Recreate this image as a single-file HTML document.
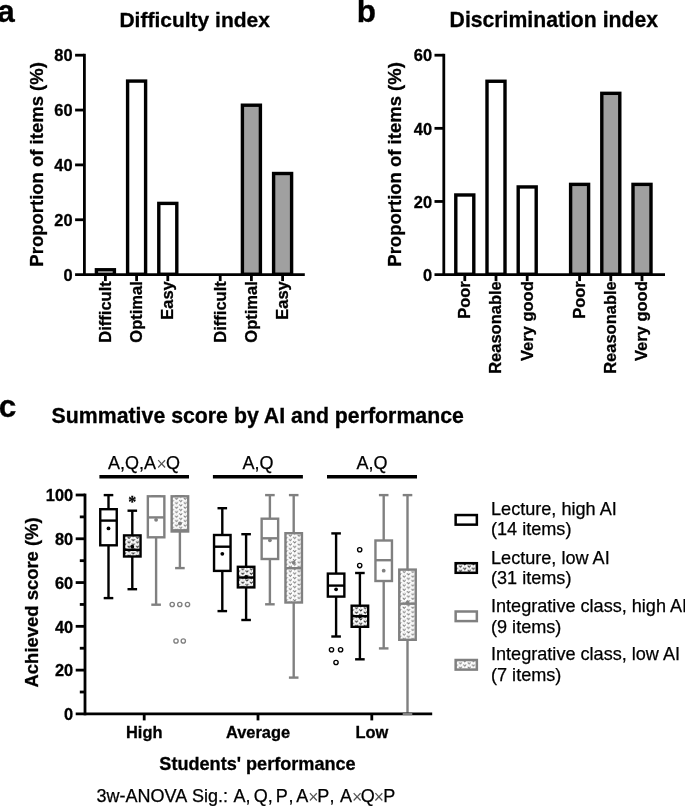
<!DOCTYPE html>
<html lang="en"><head><meta charset="utf-8"><title>Figure</title>
<style>
html,body{margin:0;padding:0;background:#fff;}
body{width:685px;height:806px;overflow:hidden;}
svg{display:block;}
svg text{white-space:pre;}
</style></head><body>
<svg width="685" height="806" viewBox="0 0 685 806" font-family='"Liberation Sans", Arial, Helvetica, sans-serif' fill="#000">
<defs>
<pattern id="pk" width="8.6" height="4.46" patternUnits="userSpaceOnUse" patternTransform="translate(0 0)">
<rect width="8.6" height="4.46" fill="#fff"/>
<rect x="-0.25" y="3.15" width="0.7" height="0.7" fill="#999"/>
<rect x="3.95" y="3.35" width="0.7" height="0.7" fill="#999"/>
<rect x="1.85" y="3.55" width="0.7" height="0.7" fill="#999"/>
<rect x="6.10" y="1.30" width="0.7" height="0.7" fill="#999"/>
<path d="M0.70 0.55 L2.15 2.25 L3.60 0.55 M5.00 2.78 L6.45 4.48 L7.90 2.78 M5.00 -1.68 L6.45 0.02 L7.90 -1.68 M-3.60 2.78 L-2.15 4.48 L-0.70 2.78 M-3.60 -1.68 L-2.15 0.02 L-0.70 -1.68 " fill="none" stroke="#1a1a1a" stroke-width="0.9"/>
</pattern>
<pattern id="pg" width="8.6" height="4.46" patternUnits="userSpaceOnUse" patternTransform="translate(0 0)">
<rect width="8.6" height="4.46" fill="#fff"/>
<rect x="-0.25" y="3.15" width="0.7" height="0.7" fill="#ccc"/>
<rect x="3.95" y="3.35" width="0.7" height="0.7" fill="#ccc"/>
<rect x="1.85" y="3.55" width="0.7" height="0.7" fill="#ccc"/>
<rect x="6.10" y="1.30" width="0.7" height="0.7" fill="#ccc"/>
<path d="M0.70 0.55 L2.15 2.25 L3.60 0.55 M5.00 2.78 L6.45 4.48 L7.90 2.78 M5.00 -1.68 L6.45 0.02 L7.90 -1.68 M-3.60 2.78 L-2.15 4.48 L-0.70 2.78 M-3.60 -1.68 L-2.15 0.02 L-0.70 -1.68 " fill="none" stroke="#777" stroke-width="0.95"/>
</pattern>
</defs>
<rect width="685" height="806" fill="#fff"/>
<text x="-2.80" y="22.20" font-size="31.5" font-weight="bold" text-anchor="start" stroke="#000" stroke-width="0.3">a</text>
<text x="356.80" y="22.20" font-size="31.5" font-weight="bold" text-anchor="start" stroke="#000" stroke-width="0.3">b</text>
<text x="-1.20" y="417.40" font-size="31.5" font-weight="bold" text-anchor="start" stroke="#000" stroke-width="0.3">c</text>
<rect x="96.40" y="269.76" width="18.00" height="4.49" fill="#fff" stroke="#000" stroke-width="3.4"/>
<rect x="127.60" y="81.08" width="18.00" height="193.17" fill="#fff" stroke="#000" stroke-width="3.4"/>
<rect x="158.80" y="203.40" width="18.00" height="70.85" fill="#fff" stroke="#000" stroke-width="3.4"/>
<rect x="242.40" y="105.21" width="18.00" height="169.04" fill="#a0a0a0" stroke="#000" stroke-width="3.4"/>
<rect x="273.60" y="173.50" width="18.00" height="100.75" fill="#a0a0a0" stroke="#000" stroke-width="3.4"/>
<line x1="84.40" y1="53.80" x2="84.40" y2="276.00" stroke="#000" stroke-width="2.8" stroke-linecap="butt"/>
<line x1="75.10" y1="274.60" x2="304.80" y2="274.60" stroke="#000" stroke-width="2.8" stroke-linecap="butt"/>
<text x="72.60" y="280.80" font-size="16.4" font-weight="bold" text-anchor="end" stroke="#000" stroke-width="0.3">0</text>
<line x1="75.10" y1="219.75" x2="84.40" y2="219.75" stroke="#000" stroke-width="2.8" stroke-linecap="butt"/>
<text x="72.60" y="225.95" font-size="16.4" font-weight="bold" text-anchor="end" stroke="#000" stroke-width="0.3">20</text>
<line x1="75.10" y1="164.90" x2="84.40" y2="164.90" stroke="#000" stroke-width="2.8" stroke-linecap="butt"/>
<text x="72.60" y="171.10" font-size="16.4" font-weight="bold" text-anchor="end" stroke="#000" stroke-width="0.3">40</text>
<line x1="75.10" y1="110.05" x2="84.40" y2="110.05" stroke="#000" stroke-width="2.8" stroke-linecap="butt"/>
<text x="72.60" y="116.25" font-size="16.4" font-weight="bold" text-anchor="end" stroke="#000" stroke-width="0.3">60</text>
<line x1="75.10" y1="55.20" x2="84.40" y2="55.20" stroke="#000" stroke-width="2.8" stroke-linecap="butt"/>
<text x="72.60" y="61.40" font-size="16.4" font-weight="bold" text-anchor="end" stroke="#000" stroke-width="0.3">80</text>
<line x1="105.40" y1="274.60" x2="105.40" y2="281.10" stroke="#000" stroke-width="2.8" stroke-linecap="butt"/>
<text x="110.80" y="281.20" font-size="16.5" font-weight="bold" text-anchor="end" transform="rotate(-90 110.80 281.20)" stroke="#000" stroke-width="0.3">Difficult</text>
<line x1="136.60" y1="274.60" x2="136.60" y2="281.10" stroke="#000" stroke-width="2.8" stroke-linecap="butt"/>
<text x="142.00" y="281.20" font-size="16.5" font-weight="bold" text-anchor="end" transform="rotate(-90 142.00 281.20)" stroke="#000" stroke-width="0.3">Optimal</text>
<line x1="167.80" y1="274.60" x2="167.80" y2="281.10" stroke="#000" stroke-width="2.8" stroke-linecap="butt"/>
<text x="173.20" y="281.20" font-size="16.5" font-weight="bold" text-anchor="end" transform="rotate(-90 173.20 281.20)" stroke="#000" stroke-width="0.3">Easy</text>
<line x1="220.20" y1="274.60" x2="220.20" y2="281.10" stroke="#000" stroke-width="2.8" stroke-linecap="butt"/>
<text x="225.60" y="281.20" font-size="16.5" font-weight="bold" text-anchor="end" transform="rotate(-90 225.60 281.20)" stroke="#000" stroke-width="0.3">Difficult</text>
<line x1="251.40" y1="274.60" x2="251.40" y2="281.10" stroke="#000" stroke-width="2.8" stroke-linecap="butt"/>
<text x="256.80" y="281.20" font-size="16.5" font-weight="bold" text-anchor="end" transform="rotate(-90 256.80 281.20)" stroke="#000" stroke-width="0.3">Optimal</text>
<line x1="282.60" y1="274.60" x2="282.60" y2="281.10" stroke="#000" stroke-width="2.8" stroke-linecap="butt"/>
<text x="288.00" y="281.20" font-size="16.5" font-weight="bold" text-anchor="end" transform="rotate(-90 288.00 281.20)" stroke="#000" stroke-width="0.3">Easy</text>
<text x="42.70" y="164.40" font-size="18.5" font-weight="bold" text-anchor="middle" transform="rotate(-90 42.70 164.40)" stroke="#000" stroke-width="0.3">Proportion of items (%)</text>
<text x="194.70" y="26.70" font-size="21" font-weight="bold" text-anchor="middle" stroke="#000" stroke-width="0.3">Difficulty index</text>
<rect x="455.80" y="194.98" width="18.00" height="79.27" fill="#fff" stroke="#000" stroke-width="3.4"/>
<rect x="487.00" y="81.26" width="18.00" height="192.99" fill="#fff" stroke="#000" stroke-width="3.4"/>
<rect x="518.20" y="186.94" width="18.00" height="87.31" fill="#fff" stroke="#000" stroke-width="3.4"/>
<rect x="570.60" y="184.38" width="18.00" height="89.87" fill="#a0a0a0" stroke="#000" stroke-width="3.4"/>
<rect x="601.80" y="93.33" width="18.00" height="180.92" fill="#a0a0a0" stroke="#000" stroke-width="3.4"/>
<rect x="633.00" y="184.38" width="18.00" height="89.87" fill="#a0a0a0" stroke="#000" stroke-width="3.4"/>
<line x1="443.80" y1="53.80" x2="443.80" y2="276.00" stroke="#000" stroke-width="2.8" stroke-linecap="butt"/>
<line x1="434.50" y1="274.60" x2="665.00" y2="274.60" stroke="#000" stroke-width="2.8" stroke-linecap="butt"/>
<text x="432.00" y="280.80" font-size="16.4" font-weight="bold" text-anchor="end" stroke="#000" stroke-width="0.3">0</text>
<line x1="434.50" y1="201.47" x2="443.80" y2="201.47" stroke="#000" stroke-width="2.8" stroke-linecap="butt"/>
<text x="432.00" y="207.67" font-size="16.4" font-weight="bold" text-anchor="end" stroke="#000" stroke-width="0.3">20</text>
<line x1="434.50" y1="128.33" x2="443.80" y2="128.33" stroke="#000" stroke-width="2.8" stroke-linecap="butt"/>
<text x="432.00" y="134.53" font-size="16.4" font-weight="bold" text-anchor="end" stroke="#000" stroke-width="0.3">40</text>
<line x1="434.50" y1="55.20" x2="443.80" y2="55.20" stroke="#000" stroke-width="2.8" stroke-linecap="butt"/>
<text x="432.00" y="61.40" font-size="16.4" font-weight="bold" text-anchor="end" stroke="#000" stroke-width="0.3">60</text>
<line x1="464.80" y1="274.60" x2="464.80" y2="281.10" stroke="#000" stroke-width="2.8" stroke-linecap="butt"/>
<text x="470.20" y="281.20" font-size="16.5" font-weight="bold" text-anchor="end" transform="rotate(-90 470.20 281.20)" stroke="#000" stroke-width="0.3">Poor</text>
<line x1="496.00" y1="274.60" x2="496.00" y2="281.10" stroke="#000" stroke-width="2.8" stroke-linecap="butt"/>
<text x="501.40" y="281.20" font-size="16.5" font-weight="bold" text-anchor="end" transform="rotate(-90 501.40 281.20)" stroke="#000" stroke-width="0.3">Reasonable</text>
<line x1="527.20" y1="274.60" x2="527.20" y2="281.10" stroke="#000" stroke-width="2.8" stroke-linecap="butt"/>
<text x="532.60" y="281.20" font-size="16.5" font-weight="bold" text-anchor="end" transform="rotate(-90 532.60 281.20)" stroke="#000" stroke-width="0.3">Very good</text>
<line x1="579.60" y1="274.60" x2="579.60" y2="281.10" stroke="#000" stroke-width="2.8" stroke-linecap="butt"/>
<text x="585.00" y="281.20" font-size="16.5" font-weight="bold" text-anchor="end" transform="rotate(-90 585.00 281.20)" stroke="#000" stroke-width="0.3">Poor</text>
<line x1="610.80" y1="274.60" x2="610.80" y2="281.10" stroke="#000" stroke-width="2.8" stroke-linecap="butt"/>
<text x="616.20" y="281.20" font-size="16.5" font-weight="bold" text-anchor="end" transform="rotate(-90 616.20 281.20)" stroke="#000" stroke-width="0.3">Reasonable</text>
<line x1="642.00" y1="274.60" x2="642.00" y2="281.10" stroke="#000" stroke-width="2.8" stroke-linecap="butt"/>
<text x="647.40" y="281.20" font-size="16.5" font-weight="bold" text-anchor="end" transform="rotate(-90 647.40 281.20)" stroke="#000" stroke-width="0.3">Very good</text>
<text x="401.10" y="164.40" font-size="18.5" font-weight="bold" text-anchor="middle" transform="rotate(-90 401.10 164.40)" stroke="#000" stroke-width="0.3">Proportion of items (%)</text>
<text x="553.80" y="26.70" font-size="21.2" font-weight="bold" text-anchor="middle" stroke="#000" stroke-width="0.3">Discrimination index</text>
<text x="51.60" y="422.80" font-size="21.3" font-weight="bold" text-anchor="start" stroke="#000" stroke-width="0.3">Summative score by AI and performance</text>
<line x1="108.50" y1="495.10" x2="108.50" y2="509.20" stroke="#000" stroke-width="2.4" stroke-linecap="butt"/>
<line x1="108.50" y1="545.30" x2="108.50" y2="598.10" stroke="#000" stroke-width="2.4" stroke-linecap="butt"/>
<line x1="103.70" y1="495.10" x2="113.30" y2="495.10" stroke="#000" stroke-width="2.4" stroke-linecap="butt"/>
<line x1="103.70" y1="598.10" x2="113.30" y2="598.10" stroke="#000" stroke-width="2.4" stroke-linecap="butt"/>
<rect x="100.25" y="509.20" width="16.50" height="36.10" fill="#fff" stroke="#000" stroke-width="2.4"/>
<line x1="100.25" y1="520.60" x2="116.75" y2="520.60" stroke="#000" stroke-width="2.4" stroke-linecap="butt"/>
<circle cx="108.50" cy="528.40" r="1.9" fill="#000"/>
<line x1="132.30" y1="510.70" x2="132.30" y2="535.40" stroke="#000" stroke-width="2.4" stroke-linecap="butt"/>
<line x1="132.30" y1="556.50" x2="132.30" y2="589.20" stroke="#000" stroke-width="2.4" stroke-linecap="butt"/>
<line x1="127.50" y1="510.70" x2="137.10" y2="510.70" stroke="#000" stroke-width="2.4" stroke-linecap="butt"/>
<line x1="127.50" y1="589.20" x2="137.10" y2="589.20" stroke="#000" stroke-width="2.4" stroke-linecap="butt"/>
<pattern id="pk1" href="#pk" patternTransform="translate(126.80 536.30)"/>
<rect x="124.05" y="535.40" width="16.50" height="21.10" fill="url(#pk1)" stroke="#000" stroke-width="2.4"/>
<line x1="124.05" y1="549.80" x2="140.55" y2="549.80" stroke="#000" stroke-width="2.4" stroke-linecap="butt"/>
<circle cx="132.30" cy="546.70" r="1.9" fill="#000"/>
<line x1="156.10" y1="496.30" x2="156.10" y2="496.30" stroke="#808080" stroke-width="2.4" stroke-linecap="butt"/>
<line x1="156.10" y1="537.30" x2="156.10" y2="604.70" stroke="#808080" stroke-width="2.4" stroke-linecap="butt"/>
<line x1="151.30" y1="496.30" x2="160.90" y2="496.30" stroke="#808080" stroke-width="2.4" stroke-linecap="butt"/>
<line x1="151.30" y1="604.70" x2="160.90" y2="604.70" stroke="#808080" stroke-width="2.4" stroke-linecap="butt"/>
<rect x="147.85" y="496.30" width="16.50" height="41.00" fill="#fff" stroke="#808080" stroke-width="2.4"/>
<line x1="147.85" y1="517.40" x2="164.35" y2="517.40" stroke="#808080" stroke-width="2.4" stroke-linecap="butt"/>
<circle cx="156.10" cy="519.80" r="1.9" fill="#808080"/>
<line x1="179.90" y1="496.30" x2="179.90" y2="496.30" stroke="#808080" stroke-width="2.4" stroke-linecap="butt"/>
<line x1="179.90" y1="531.50" x2="179.90" y2="568.10" stroke="#808080" stroke-width="2.4" stroke-linecap="butt"/>
<line x1="175.10" y1="496.30" x2="184.70" y2="496.30" stroke="#808080" stroke-width="2.4" stroke-linecap="butt"/>
<line x1="175.10" y1="568.10" x2="184.70" y2="568.10" stroke="#808080" stroke-width="2.4" stroke-linecap="butt"/>
<pattern id="pg2" href="#pg" patternTransform="translate(174.40 497.20)"/>
<rect x="171.65" y="496.30" width="16.50" height="35.20" fill="url(#pg2)" stroke="#808080" stroke-width="2.4"/>
<line x1="171.65" y1="530.30" x2="188.15" y2="530.30" stroke="#808080" stroke-width="2.4" stroke-linecap="butt"/>
<circle cx="179.90" cy="523.50" r="1.9" fill="#808080"/>
<circle cx="172.20" cy="604.50" r="2.15" fill="none" stroke="#808080" stroke-width="1.35"/>
<circle cx="179.80" cy="604.50" r="2.15" fill="none" stroke="#808080" stroke-width="1.35"/>
<circle cx="187.50" cy="604.50" r="2.15" fill="none" stroke="#808080" stroke-width="1.35"/>
<circle cx="176.00" cy="641.00" r="2.15" fill="none" stroke="#808080" stroke-width="1.35"/>
<circle cx="183.30" cy="641.00" r="2.15" fill="none" stroke="#808080" stroke-width="1.35"/>
<line x1="222.30" y1="508.20" x2="222.30" y2="535.00" stroke="#000" stroke-width="2.4" stroke-linecap="butt"/>
<line x1="222.30" y1="570.90" x2="222.30" y2="611.10" stroke="#000" stroke-width="2.4" stroke-linecap="butt"/>
<line x1="217.50" y1="508.20" x2="227.10" y2="508.20" stroke="#000" stroke-width="2.4" stroke-linecap="butt"/>
<line x1="217.50" y1="611.10" x2="227.10" y2="611.10" stroke="#000" stroke-width="2.4" stroke-linecap="butt"/>
<rect x="214.05" y="535.00" width="16.50" height="35.90" fill="#fff" stroke="#000" stroke-width="2.4"/>
<line x1="214.05" y1="546.70" x2="230.55" y2="546.70" stroke="#000" stroke-width="2.4" stroke-linecap="butt"/>
<circle cx="222.30" cy="553.80" r="1.9" fill="#000"/>
<line x1="246.10" y1="534.20" x2="246.10" y2="566.80" stroke="#000" stroke-width="2.4" stroke-linecap="butt"/>
<line x1="246.10" y1="587.40" x2="246.10" y2="620.00" stroke="#000" stroke-width="2.4" stroke-linecap="butt"/>
<line x1="241.30" y1="534.20" x2="250.90" y2="534.20" stroke="#000" stroke-width="2.4" stroke-linecap="butt"/>
<line x1="241.30" y1="620.00" x2="250.90" y2="620.00" stroke="#000" stroke-width="2.4" stroke-linecap="butt"/>
<pattern id="pk3" href="#pk" patternTransform="translate(240.60 567.70)"/>
<rect x="237.85" y="566.80" width="16.50" height="20.60" fill="url(#pk3)" stroke="#000" stroke-width="2.4"/>
<line x1="237.85" y1="577.50" x2="254.35" y2="577.50" stroke="#000" stroke-width="2.4" stroke-linecap="butt"/>
<circle cx="246.10" cy="577.00" r="1.9" fill="#000"/>
<line x1="269.90" y1="495.10" x2="269.90" y2="518.70" stroke="#808080" stroke-width="2.4" stroke-linecap="butt"/>
<line x1="269.90" y1="559.00" x2="269.90" y2="604.30" stroke="#808080" stroke-width="2.4" stroke-linecap="butt"/>
<line x1="265.10" y1="495.10" x2="274.70" y2="495.10" stroke="#808080" stroke-width="2.4" stroke-linecap="butt"/>
<line x1="265.10" y1="604.30" x2="274.70" y2="604.30" stroke="#808080" stroke-width="2.4" stroke-linecap="butt"/>
<rect x="261.65" y="518.70" width="16.50" height="40.30" fill="#fff" stroke="#808080" stroke-width="2.4"/>
<line x1="261.65" y1="538.30" x2="278.15" y2="538.30" stroke="#808080" stroke-width="2.4" stroke-linecap="butt"/>
<circle cx="269.90" cy="540.30" r="1.9" fill="#808080"/>
<line x1="293.70" y1="495.10" x2="293.70" y2="533.20" stroke="#808080" stroke-width="2.4" stroke-linecap="butt"/>
<line x1="293.70" y1="602.50" x2="293.70" y2="677.60" stroke="#808080" stroke-width="2.4" stroke-linecap="butt"/>
<line x1="288.90" y1="495.10" x2="298.50" y2="495.10" stroke="#808080" stroke-width="2.4" stroke-linecap="butt"/>
<line x1="288.90" y1="677.60" x2="298.50" y2="677.60" stroke="#808080" stroke-width="2.4" stroke-linecap="butt"/>
<pattern id="pg4" href="#pg" patternTransform="translate(288.20 534.10)"/>
<rect x="285.45" y="533.20" width="16.50" height="69.30" fill="url(#pg4)" stroke="#808080" stroke-width="2.4"/>
<line x1="285.45" y1="568.20" x2="301.95" y2="568.20" stroke="#808080" stroke-width="2.4" stroke-linecap="butt"/>
<circle cx="293.70" cy="562.60" r="1.9" fill="#808080"/>
<line x1="336.10" y1="533.40" x2="336.10" y2="573.60" stroke="#000" stroke-width="2.4" stroke-linecap="butt"/>
<line x1="336.10" y1="596.60" x2="336.10" y2="636.50" stroke="#000" stroke-width="2.4" stroke-linecap="butt"/>
<line x1="331.30" y1="533.40" x2="340.90" y2="533.40" stroke="#000" stroke-width="2.4" stroke-linecap="butt"/>
<line x1="331.30" y1="636.50" x2="340.90" y2="636.50" stroke="#000" stroke-width="2.4" stroke-linecap="butt"/>
<rect x="327.85" y="573.60" width="16.50" height="23.00" fill="#fff" stroke="#000" stroke-width="2.4"/>
<line x1="327.85" y1="585.60" x2="344.35" y2="585.60" stroke="#000" stroke-width="2.4" stroke-linecap="butt"/>
<circle cx="336.10" cy="589.30" r="1.9" fill="#000"/>
<circle cx="331.50" cy="649.80" r="2.15" fill="none" stroke="#000" stroke-width="1.35"/>
<circle cx="340.60" cy="649.80" r="2.15" fill="none" stroke="#000" stroke-width="1.35"/>
<circle cx="336.00" cy="662.50" r="2.15" fill="none" stroke="#000" stroke-width="1.35"/>
<line x1="359.90" y1="573.00" x2="359.90" y2="605.70" stroke="#000" stroke-width="2.4" stroke-linecap="butt"/>
<line x1="359.90" y1="626.80" x2="359.90" y2="659.30" stroke="#000" stroke-width="2.4" stroke-linecap="butt"/>
<line x1="355.10" y1="573.00" x2="364.70" y2="573.00" stroke="#000" stroke-width="2.4" stroke-linecap="butt"/>
<line x1="355.10" y1="659.30" x2="364.70" y2="659.30" stroke="#000" stroke-width="2.4" stroke-linecap="butt"/>
<pattern id="pk5" href="#pk" patternTransform="translate(354.40 606.60)"/>
<rect x="351.65" y="605.70" width="16.50" height="21.10" fill="url(#pk5)" stroke="#000" stroke-width="2.4"/>
<line x1="351.65" y1="616.20" x2="368.15" y2="616.20" stroke="#000" stroke-width="2.4" stroke-linecap="butt"/>
<circle cx="359.90" cy="616.50" r="1.9" fill="#000"/>
<circle cx="359.70" cy="549.70" r="2.15" fill="none" stroke="#000" stroke-width="1.35"/>
<circle cx="359.70" cy="565.60" r="2.15" fill="none" stroke="#000" stroke-width="1.35"/>
<line x1="383.70" y1="495.10" x2="383.70" y2="540.50" stroke="#808080" stroke-width="2.4" stroke-linecap="butt"/>
<line x1="383.70" y1="581.00" x2="383.70" y2="648.40" stroke="#808080" stroke-width="2.4" stroke-linecap="butt"/>
<line x1="378.90" y1="495.10" x2="388.50" y2="495.10" stroke="#808080" stroke-width="2.4" stroke-linecap="butt"/>
<line x1="378.90" y1="648.40" x2="388.50" y2="648.40" stroke="#808080" stroke-width="2.4" stroke-linecap="butt"/>
<rect x="375.45" y="540.50" width="16.50" height="40.50" fill="#fff" stroke="#808080" stroke-width="2.4"/>
<line x1="375.45" y1="560.20" x2="391.95" y2="560.20" stroke="#808080" stroke-width="2.4" stroke-linecap="butt"/>
<circle cx="383.70" cy="570.70" r="1.9" fill="#808080"/>
<line x1="407.50" y1="495.10" x2="407.50" y2="569.60" stroke="#808080" stroke-width="2.4" stroke-linecap="butt"/>
<line x1="407.50" y1="639.80" x2="407.50" y2="713.90" stroke="#808080" stroke-width="2.4" stroke-linecap="butt"/>
<line x1="402.70" y1="495.10" x2="412.30" y2="495.10" stroke="#808080" stroke-width="2.4" stroke-linecap="butt"/>
<line x1="402.70" y1="713.90" x2="412.30" y2="713.90" stroke="#808080" stroke-width="2.4" stroke-linecap="butt"/>
<pattern id="pg6" href="#pg" patternTransform="translate(402.00 570.50)"/>
<rect x="399.25" y="569.60" width="16.50" height="70.20" fill="url(#pg6)" stroke="#808080" stroke-width="2.4"/>
<line x1="399.25" y1="603.70" x2="415.75" y2="603.70" stroke="#808080" stroke-width="2.4" stroke-linecap="butt"/>
<circle cx="407.50" cy="602.70" r="1.9" fill="#808080"/>
<text x="132.30" y="506.60" font-size="16" font-weight="bold" text-anchor="middle" font-family='"Liberation Serif", "Times New Roman", serif' stroke="#000" stroke-width="0.3">*</text>
<line x1="85.00" y1="493.60" x2="85.00" y2="715.30" stroke="#000" stroke-width="2.8" stroke-linecap="butt"/>
<line x1="75.70" y1="713.90" x2="432.20" y2="713.90" stroke="#000" stroke-width="2.8" stroke-linecap="butt"/>
<line x1="402.70" y1="713.90" x2="412.30" y2="713.90" stroke="#808080" stroke-width="2.4" stroke-linecap="butt"/>
<text x="73.20" y="720.20" font-size="16.4" font-weight="bold" text-anchor="end" stroke="#000" stroke-width="0.3">0</text>
<line x1="79.80" y1="692.01" x2="85.00" y2="692.01" stroke="#000" stroke-width="2.8" stroke-linecap="butt"/>
<line x1="75.70" y1="670.12" x2="85.00" y2="670.12" stroke="#000" stroke-width="2.8" stroke-linecap="butt"/>
<text x="73.20" y="676.42" font-size="16.4" font-weight="bold" text-anchor="end" stroke="#000" stroke-width="0.3">20</text>
<line x1="79.80" y1="648.23" x2="85.00" y2="648.23" stroke="#000" stroke-width="2.8" stroke-linecap="butt"/>
<line x1="75.70" y1="626.34" x2="85.00" y2="626.34" stroke="#000" stroke-width="2.8" stroke-linecap="butt"/>
<text x="73.20" y="632.64" font-size="16.4" font-weight="bold" text-anchor="end" stroke="#000" stroke-width="0.3">40</text>
<line x1="79.80" y1="604.45" x2="85.00" y2="604.45" stroke="#000" stroke-width="2.8" stroke-linecap="butt"/>
<line x1="75.70" y1="582.56" x2="85.00" y2="582.56" stroke="#000" stroke-width="2.8" stroke-linecap="butt"/>
<text x="73.20" y="588.86" font-size="16.4" font-weight="bold" text-anchor="end" stroke="#000" stroke-width="0.3">60</text>
<line x1="79.80" y1="560.67" x2="85.00" y2="560.67" stroke="#000" stroke-width="2.8" stroke-linecap="butt"/>
<line x1="75.70" y1="538.78" x2="85.00" y2="538.78" stroke="#000" stroke-width="2.8" stroke-linecap="butt"/>
<text x="73.20" y="545.08" font-size="16.4" font-weight="bold" text-anchor="end" stroke="#000" stroke-width="0.3">80</text>
<line x1="79.80" y1="516.89" x2="85.00" y2="516.89" stroke="#000" stroke-width="2.8" stroke-linecap="butt"/>
<line x1="75.70" y1="495.00" x2="85.00" y2="495.00" stroke="#000" stroke-width="2.8" stroke-linecap="butt"/>
<text x="73.20" y="501.30" font-size="16.4" font-weight="bold" text-anchor="end" stroke="#000" stroke-width="0.3">100</text>
<line x1="144.20" y1="713.90" x2="144.20" y2="720.40" stroke="#000" stroke-width="2.8" stroke-linecap="butt"/>
<text x="144.20" y="737.50" font-size="16.4" font-weight="bold" text-anchor="middle" stroke="#000" stroke-width="0.3">High</text>
<line x1="258.00" y1="713.90" x2="258.00" y2="720.40" stroke="#000" stroke-width="2.8" stroke-linecap="butt"/>
<text x="258.00" y="737.50" font-size="16.4" font-weight="bold" text-anchor="middle" stroke="#000" stroke-width="0.3">Average</text>
<line x1="371.80" y1="713.90" x2="371.80" y2="720.40" stroke="#000" stroke-width="2.8" stroke-linecap="butt"/>
<text x="371.80" y="737.50" font-size="16.4" font-weight="bold" text-anchor="middle" stroke="#000" stroke-width="0.3">Low</text>
<text x="257.50" y="770.20" font-size="18.1" font-weight="bold" text-anchor="middle" stroke="#000" stroke-width="0.3">Students' performance</text>
<text x="38.30" y="602.40" font-size="18.45" font-weight="bold" text-anchor="middle" transform="rotate(-90 38.30 602.40)" stroke="#000" stroke-width="0.3">Achieved score (%)</text>
<line x1="99.40" y1="476.80" x2="189.00" y2="476.80" stroke="#000" stroke-width="3.5" stroke-linecap="butt"/>
<line x1="212.90" y1="476.80" x2="302.90" y2="476.80" stroke="#000" stroke-width="3.5" stroke-linecap="butt"/>
<line x1="327.00" y1="476.80" x2="417.00" y2="476.80" stroke="#000" stroke-width="3.5" stroke-linecap="butt"/>
<text x="108.10" y="469.10" font-size="18" font-weight="normal" text-anchor="start" stroke="#000" stroke-width="0.25"><tspan x="108.1" y="469.1">A,</tspan><tspan x="125.0" y="469.1">Q,</tspan><tspan x="143.9" y="469.1">A</tspan><tspan x="156.5" y="469.9" font-size="17.5" fill="#555" stroke="none">×</tspan><tspan x="166.1" y="469.1">Q</tspan></text>
<text x="258.00" y="469.20" font-size="18" font-weight="normal" text-anchor="middle" stroke="#000" stroke-width="0.25">A,Q</text>
<text x="372.00" y="469.20" font-size="18" font-weight="normal" text-anchor="middle" stroke="#000" stroke-width="0.25">A,Q</text>
<text x="96.50" y="802.30" font-size="18" font-weight="normal" text-anchor="start" stroke="#000" stroke-width="0.25"><tspan x="96.5" y="802.3">3w-ANOVA </tspan><tspan x="191.9" y="802.3">Sig.: </tspan><tspan x="233.6" y="802.3">A, </tspan><tspan x="253.7" y="802.3">Q, </tspan><tspan x="275.8" y="802.3">P</tspan><tspan x="288.6" y="802.3">, </tspan><tspan x="296.3" y="802.3">A</tspan><tspan x="308.3" y="803.1" font-size="17.5" fill="#555" stroke="none">×</tspan><tspan x="317.2" y="802.3">P</tspan><tspan x="329.6" y="802.3">, </tspan><tspan x="340.1" y="802.3">A</tspan><tspan x="352.0" y="803.1" font-size="17.5" fill="#555" stroke="none">×</tspan><tspan x="360.8" y="802.3">Q</tspan><tspan x="373.8" y="803.1" font-size="17.5" fill="#555" stroke="none">×</tspan><tspan x="383.3" y="802.3">P</tspan></text>
<rect x="455.65" y="515.05" width="21.20" height="9.60" fill="#fff" stroke="#000" stroke-width="2.5"/>
<text x="491.00" y="515.10" font-size="18.1" font-weight="normal" text-anchor="start" stroke="#000" stroke-width="0.25">Lecture, high AI</text>
<text x="491.00" y="535.45" font-size="18.1" font-weight="normal" text-anchor="start" stroke="#000" stroke-width="0.25">(14 items)</text>
<pattern id="pk7" href="#pk" patternTransform="translate(458.35 564.95)"/>
<rect x="455.65" y="563.20" width="21.20" height="9.60" fill="url(#pk7)" stroke="#000" stroke-width="2.5"/>
<text x="491.00" y="563.50" font-size="18.1" font-weight="normal" text-anchor="start" stroke="#000" stroke-width="0.25">Lecture, low AI</text>
<text x="491.00" y="583.85" font-size="18.1" font-weight="normal" text-anchor="start" stroke="#000" stroke-width="0.25">(31 items)</text>
<rect x="455.65" y="611.50" width="21.20" height="9.60" fill="#fff" stroke="#808080" stroke-width="2.5"/>
<text x="491.00" y="611.90" font-size="18.1" font-weight="normal" text-anchor="start" stroke="#000" stroke-width="0.25">Integrative class, high AI</text>
<text x="491.00" y="632.80" font-size="18.1" font-weight="normal" text-anchor="start" stroke="#000" stroke-width="0.25">(9 items)</text>
<pattern id="pg8" href="#pg" patternTransform="translate(458.35 661.75)"/>
<rect x="455.65" y="660.00" width="21.20" height="9.60" fill="url(#pg8)" stroke="#808080" stroke-width="2.5"/>
<text x="491.00" y="660.30" font-size="18.1" font-weight="normal" text-anchor="start" stroke="#000" stroke-width="0.25">Integrative class, low AI</text>
<text x="491.00" y="681.20" font-size="18.1" font-weight="normal" text-anchor="start" stroke="#000" stroke-width="0.25">(7 items)</text>
</svg>
</body></html>
